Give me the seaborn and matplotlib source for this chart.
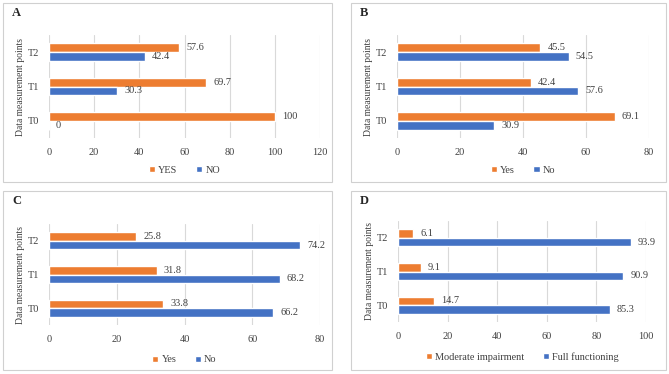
import numpy as np
import pandas as pd
import seaborn as sns
import matplotlib.pyplot as plt
from matplotlib.patches import Rectangle

sns.set_theme(style='white')
plt.rcParams['font.family'] = ['Liberation Serif', 'DejaVu Serif']

# data
points = ['T2', 'T1', 'T0']

a_labels = ['YES', 'NO']
a_first = [57.6, 69.7, 100]
a_second = [42.4, 30.3, 0]

b_labels = ['Yes', 'No']
b_first = [45.5, 42.4, 69.1]
b_second = [54.5, 57.6, 30.9]

c_labels = ['Yes', 'No']
c_first = [25.8, 31.8, 33.8]
c_second = [74.2, 68.2, 66.2]

d_labels = ['Moderate impairment', 'Full functioning']
d_first = [6.1, 9.1, 14.7]
d_second = [93.9, 90.9, 85.3]

xmax = [120, 80, 80, 100]
letters = ['A', 'B', 'C', 'D']

W, H = 669, 374
ORANGE = '#ED7D31'
BLUE = '#4472C4'
GRID = '#D9D9D9'
FS = 7.4

fig = plt.figure(figsize=(W / 100, H / 100), dpi=100)


def px(x0, y0, x1, y1):
    return [x0 / W, 1 - y1 / H, (x1 - x0) / W, (y1 - y0) / H]


def panel(box, area, legend_y, letter, labels, first, second, top):
    bx0, by0, bx1, by1 = box
    fig.patches.append(Rectangle((bx0 / W, 1 - by1 / H), (bx1 - bx0) / W, (by1 - by0) / H,
                                 transform=fig.transFigure, fill=False,
                                 edgecolor='#D0D0D0', linewidth=0.8))
    fig.text((bx0 + 9) / W, 1 - (by0 + 10) / H, letter, fontsize=9, fontweight='bold',
             va='center', ha='left')

    df = pd.DataFrame({
        'point': points * 2,
        'value': list(first) + list(second),
        'group': [labels[0]] * 3 + [labels[1]] * 3,
    })
    ax = fig.add_axes(px(*area))
    sns.barplot(data=df, y='point', x='value', hue='group', order=points,
                hue_order=labels, palette=[ORANGE, BLUE], width=0.51,
                orient='h', saturation=1, ax=ax, legend=True)
    for cont in ax.containers:
        ax.bar_label(cont, labels=[f'{v:g}' for v in cont.datavalues],
                     padding=5, fontsize=FS, color='#404040')
    ax.set_xlim(0, top)
    ax.set_xticks(np.arange(0, top + 1, 20))
    ax.grid(axis='x', color=GRID, linewidth=0.8)
    ax.set_axisbelow(True)
    for s in ax.spines.values():
        s.set_visible(False)
    ax.tick_params(axis='both', length=0, labelsize=FS, colors='#404040', pad=7)
    ax.set_xlabel('')
    ax.set_ylabel('Data measurement points', fontsize=6.9, color='#404040', labelpad=2)

    handles, labs = ax.get_legend_handles_labels()
    ax.legend(handles, labs, loc='center',
              bbox_to_anchor=((area[0] + area[2]) / 2 / W, 1 - legend_y / H),
              bbox_transform=fig.transFigure, ncol=2, frameon=False, fontsize=FS,
              handlelength=0.6, handleheight=0.6, handletextpad=0.3,
              columnspacing=1.8, labelcolor='#404040')
    return ax


panel((3, 3, 332, 182), (49, 35, 320, 138), 170, letters[0], a_labels, a_first, a_second, xmax[0])
panel((351, 3, 666, 182), (397, 35, 649, 138), 170, letters[1], b_labels, b_first, b_second, xmax[1])
panel((3, 191, 332, 370), (49, 224, 320, 325), 360, letters[2], c_labels, c_first, c_second, xmax[2])
panel((351, 191, 666, 370), (398, 221, 646, 322), 357, letters[3], d_labels, d_first, d_second, xmax[3])

fig.savefig('out.png', dpi=100, facecolor='white')
